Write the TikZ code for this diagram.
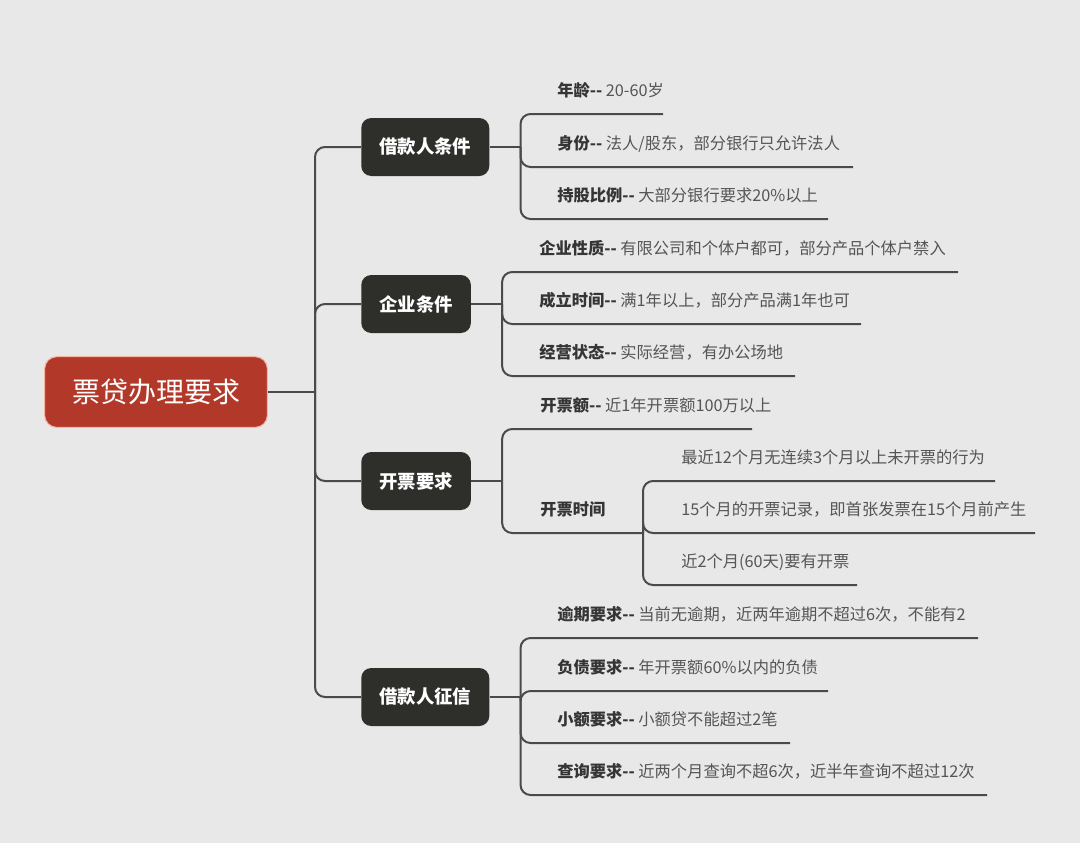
\documentclass[tikz,border=0pt]{standalone}
\usepackage{fontspec}
\setmainfont{Noto Sans CJK SC}
\usetikzlibrary{calc}

\definecolor{bggray}{HTML}{E8E8E8}
\definecolor{rootred}{HTML}{B2392A}
\definecolor{rootborder}{HTML}{F2B3A3}
\definecolor{topicdark}{HTML}{2E2E2B}
\definecolor{linegray}{HTML}{4A4A4A}
\definecolor{keygray}{HTML}{353535}
\definecolor{valgray}{HTML}{555555}

\newcommand{\rootfont}{\fontsize{21}{24}\selectfont}
\newcommand{\topicfont}{\fontsize{13.8}{16}\selectfont\bfseries}
\newcommand{\leaffont}{\fontsize{12.2}{14}\selectfont}

\begin{document}
\begin{tikzpicture}[
    x=0.75pt, y=-0.75pt,
    root/.style={fill=rootred, draw=rootborder, line width=0.8pt,
                 rounded corners=9pt, text=white, font=\rootfont,
                 inner xsep=20.5pt, minimum height=53pt},
    topic/.style={fill=topicdark, rounded corners=7.5pt, text=white,
                  font=\topicfont, inner xsep=13.5pt, inner ysep=0pt,
                  minimum height=43.5pt, anchor=west},
    leaf/.style={anchor=base west, font=\leaffont, text=valgray, inner sep=0pt},
    conn/.style={draw=linegray, line width=1.5pt, rounded corners=7.5pt},
]

% === Background ===
\fill[bggray] (0,0) rectangle (1080,843);
\useasboundingbox (0,0) rectangle (1080,843);

% --- Root ---
\node[root] (root) at (156,392) {票贷办理要求};
\coordinate (rj) at (315,392);
\draw[conn] (root.east) -- (rj);

% --- Main topics ---
\foreach \t/\ypos/\lbl in {t1/147/借款人条件, t2/304/企业条件, t3/481/开票要求, t4/697/借款人征信} {
    \node[topic] (\t) at (361,\ypos) {\lbl};
    \draw[conn] (rj) |- (\t.west);
    \coordinate (\t j) at ($(\t.east)+(31,0)$);
    \draw[conn] (\t.east) -- (\t j);
}

% --- Borrower conditions ---
\foreach \n/\ly/\ex/\k/\v in {a/114/663/年龄/20-60岁,
        b/167/853/身份/{法人/股东，部分银行只允许法人},
        c/219/828/持股比例/大部分银行要求20\%以上} {
    \node[leaf] (t1\n) at (557,\ly-17.5) {\textcolor{keygray}{\bfseries\k-{}-} \v};
    \coordinate (t1\n e) at (\ex,\ly);
    \draw[conn] (t1j) |- (t1\n e);
}

% --- Company conditions ---
\foreach \n/\ly/\ex/\k/\v in {a/272/958/企业性质/有限公司和个体户都可，部分产品个体户禁入,
        b/324/861/成立时间/满1年以上，部分产品满1年也可,
        c/376/795/经营状态/实际经营，有办公场地} {
    \node[leaf] (t2\n) at (539,\ly-17.5) {\textcolor{keygray}{\bfseries\k-{}-} \v};
    \coordinate (t2\n e) at (\ex,\ly);
    \draw[conn] (t2j) |- (t2\n e);
}

% --- Invoicing requirements ---
\node[leaf] (t3a) at (540,429-17.5) {\textcolor{keygray}{\bfseries 开票额-{}-} 近1年开票额100万以上};
\coordinate (t3ae) at (752,429);
\draw[conn] (t3j) |- (t3ae);
\node[leaf, text=keygray, font=\leaffont\bfseries] (t3b) at (540,533-17.5) {开票时间};
\coordinate (t3bj) at (643,533);
\draw[conn] (t3j) |- (t3bj);
\foreach \n/\ly/\ex/\v in {a/481/995/最近12个月无连续3个月以上未开票的行为,
        b/533/1035/15个月的开票记录，即首张发票在15个月前产生,
        c/585/857/近2个月(60天)要有开票} {
    \node[leaf] (t3b\n) at (681,\ly-17.5) {\v};
    \coordinate (t3b\n e) at (\ex,\ly);
    \draw[conn] (t3bj) |- (t3b\n e);
}

% --- Borrower credit ---
\foreach \n/\ly/\ex/\k/\v in {a/638/978/逾期要求/当前无逾期，近两年逾期不超过6次，不能有2,
        b/691/828/负债要求/年开票额60\%以内的负债,
        c/743/790/小额要求/小额贷不能超过2笔,
        d/795/987/查询要求/近两个月查询不超6次，近半年查询不超过12次} {
    \node[leaf] (t4\n) at (557,\ly-17.5) {\textcolor{keygray}{\bfseries\k-{}-} \v};
    \coordinate (t4\n e) at (\ex,\ly);
    \draw[conn] (t4j) |- (t4\n e);
}

\end{tikzpicture}
\end{document}
